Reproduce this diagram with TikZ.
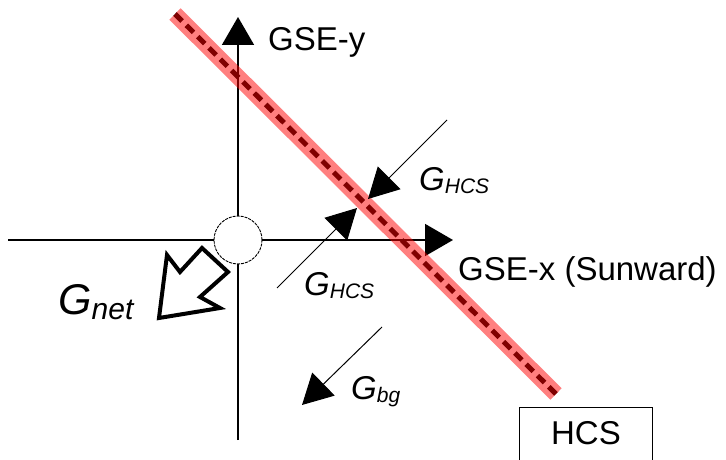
\documentclass[tikz,border=0pt]{standalone}
\usepackage{fontspec}
\setmainfont{Liberation Sans}
\usetikzlibrary{arrows.meta,positioning}
\definecolor{sheet}{HTML}{FF0000}
\newcommand{\gsub}[2][21]{\textit{G}\raisebox{-0.12em}{\fontsize{#1}{#1}\selectfont\itshape #2}}

\begin{document}
\begin{tikzpicture}[x=1pt, y=-1pt,
  lbl/.style={inner sep=0pt, anchor=base west, font=\fontsize{33}{33}\selectfont},
  axis/.style={line width=1.7pt, -{Triangle[length=28pt,width=32pt]}},
  field/.style={line width=1pt, -{Triangle[length=30pt,width=32pt]}}]
\useasboundingbox (0,0) rectangle (726,460);
\clip (0,0) rectangle (726,460);
\node[circle, draw, fill=white, minimum size=48pt, inner sep=0pt, line width=0.9pt, dash pattern=on 3pt off 1pt] (earth) at (238,240) {};
\coordinate (xfrom) at (8,240);  \coordinate (xto) at (453,240);
\coordinate (yfrom) at (238,440); \coordinate (yto) at (238,17);
\draw[line width=1.7pt] (xfrom) -- (earth.west);
\draw[axis] (earth.east) -- (xto);
\draw[line width=1.7pt] (yfrom) -- (earth.south);
\draw[axis] (earth.north) -- (yto);
\node[lbl] (ylabel) at (268,51) {GSE-y};
\node[lbl] (xlabel) at (458,280) {GSE-x (Sunward)};
% current sheet
\coordinate (s1) at (175,14); \coordinate (s2) at (556,394);
\draw[line width=5pt, dash pattern=on 10pt off 6pt] (s1) -- (s2);
\draw[line width=16pt, sheet, opacity=0.5] (s1) -- (s2);
\coordinate (h1) at (447,120); \coordinate (h1tip) at (368,199);
\coordinate (h2) at (277,288); \coordinate (h2tip) at (357,208);
\coordinate (bg) at (382,327); \coordinate (bgtip) at (302,405);
\draw[field] (h1) -- (h1tip);
\draw[field] (h2) -- (h2tip);
\draw[field] (bg) -- (bgtip);
\node[lbl] (ghcsa) at (419,190) {\gsub{HCS}};
\node[lbl] (ghcsb) at (304,295) {\gsub{HCS}};
\node[lbl] (gbg) at (351,399) {\gsub{bg}};
% net field
\draw[line width=4pt, line join=miter] (159,318) -- (167,255) -- (180,272) -- (202,248)
  -- (228,272) -- (200,297) -- (220,308) -- cycle;
\node[lbl, font=\fontsize{43}{43}\selectfont] (gnet) at (58,314) {\gsub[30]{net}};
\node[draw, line width=1pt, anchor=north, minimum width=133pt, inner ysep=14pt, text depth=6pt,
  font=\fontsize{33}{33}\selectfont] (hcs) at (586,407) {HCS};
\end{tikzpicture}
\end{document}
